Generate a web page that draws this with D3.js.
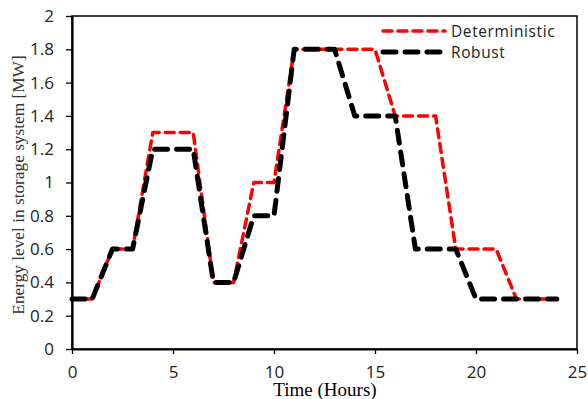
<!DOCTYPE html>
<html>
<head>
<meta charset="utf-8">
<script src="https://cdn.jsdelivr.net/npm/d3@7"></script>
<style>
  body { margin: 0; background: #fff; }
</style>
</head>
<body>
<div id="wrapper"></div>
<script>
// hourly energy level [MW]
const hours = [0, 1, 2, 3, 4, 5, 6, 7, 8, 9, 10, 11, 12, 13, 14, 15, 16, 17, 18, 19, 20, 21, 22, 23, 24]
const deterministic = [0.3, 0.3, 0.6, 0.6, 1.3, 1.3, 1.3, 0.4, 0.4, 1.0, 1.0, 1.8, 1.8, 1.8, 1.8, 1.8, 1.4, 1.4, 1.4, 0.6, 0.6, 0.6, 0.3, 0.3, 0.3]
const robust = [0.3, 0.3, 0.6, 0.6, 1.2, 1.2, 1.2, 0.4, 0.4, 0.8, 0.8, 1.8, 1.8, 1.8, 1.4, 1.4, 1.4, 0.6, 0.6, 0.6, 0.3, 0.3, 0.3, 0.3, 0.3]
const xTicks = [0, 5, 10, 15, 20, 25]
const yTicks = [0, 0.2, 0.4, 0.6, 0.8, 1, 1.2, 1.4, 1.6, 1.8, 2]
const seriesNames = ["Deterministic", "Robust"]

const dims = {
    width: 588,
    height: 399,
    margin: { top: 16, right: 11, bottom: 50, left: 72 },
}
dims.boundWidth = dims.width - dims.margin.left - dims.margin.right
dims.boundHeight = dims.height - dims.margin.top - dims.margin.bottom

const svg = d3.select("#wrapper")
    .append("svg")
        .attr("width", dims.width)
        .attr("height", dims.height)

const bound = svg.append("g")
    .attr("transform", `translate(${dims.margin.left},${dims.margin.top})`)

const xScale = d3.scaleLinear().domain([0, 25]).range([0, dims.boundWidth])
const yScale = d3.scaleLinear().domain([0, 2]).range([dims.boundHeight, 0])

// frame
bound.append("rect")
    .attr("width", dims.boundWidth)
    .attr("height", dims.boundHeight)
    .attr("fill", "none")
    .attr("stroke", "#000")
    .attr("stroke-width", 1.5)

// axes
const xAxis = bound.append("g")
    .attr("transform", `translate(0,${dims.boundHeight})`)
    .call(d3.axisBottom(xScale).tickValues(xTicks).tickSize(5).tickPadding(12).tickSizeOuter(0))
const yAxis = bound.append("g")
    .call(d3.axisLeft(yScale).tickValues(yTicks).tickSize(6).tickPadding(12).tickSizeOuter(0).tickFormat(d3.format("~g")))

for (const ax of [xAxis, yAxis]) {
    ax.select(".domain").attr("stroke-width", 2.2)
    ax.selectAll(".tick line").attr("stroke-width", 1.3)
    ax.selectAll(".tick text")
        .attr("font-family", "'Open Sans', sans-serif")
        .attr("font-size", 17)
        .attr("fill", "#222")
}

// lines
const lineGen = vals => d3.line()
    .x((d, i) => xScale(hours[i]))
    .y(d => yScale(d))(vals)

const styles = [
    { data: deterministic, color: "#ff0000", width: 3.5, dash: "9,6" },
    { data: robust, color: "#000000", width: 5, dash: "13,9" },
]

styles.forEach(s => {
    bound.append("path")
        .attr("d", lineGen(s.data))
        .attr("fill", "none")
        .attr("stroke", s.color)
        .attr("stroke-width", s.width)
        .attr("stroke-dasharray", s.dash)
        .attr("stroke-linecap", "round")
        .attr("stroke-linejoin", "round")
})

// legend
const legend = svg.append("g")
styles.forEach((s, i) => {
    const y = 31 + i * 21
    legend.append("line")
        .attr("x1", 383).attr("x2", 445)
        .attr("y1", y).attr("y2", y)
        .attr("stroke", s.color)
        .attr("stroke-width", s.width)
        .attr("stroke-dasharray", s.dash)
        .attr("stroke-linecap", "round")
    legend.append("text")
        .attr("x", 451).attr("y", y + 6)
        .attr("font-family", "'Open Sans', sans-serif")
        .attr("font-size", 15.5)
        .attr("letter-spacing", 0.6)
        .attr("fill", "#222")
        .text(seriesNames[i])
})

// axis titles
svg.append("text")
    .attr("x", 325).attr("y", 396)
    .attr("text-anchor", "middle")
    .attr("font-family", "'Liberation Serif', 'Times New Roman', serif")
    .attr("font-size", 19)
    .text("Time (Hours)")

svg.append("text")
    .attr("transform", "translate(24,185) rotate(-90)")
    .attr("text-anchor", "middle")
    .attr("font-family", "'Liberation Serif', 'Times New Roman', serif")
    .attr("font-size", 17.3)
    .attr("fill", "#333")
    .text("Energy level  in storage system [MW]")
</script>
</body>
</html>
